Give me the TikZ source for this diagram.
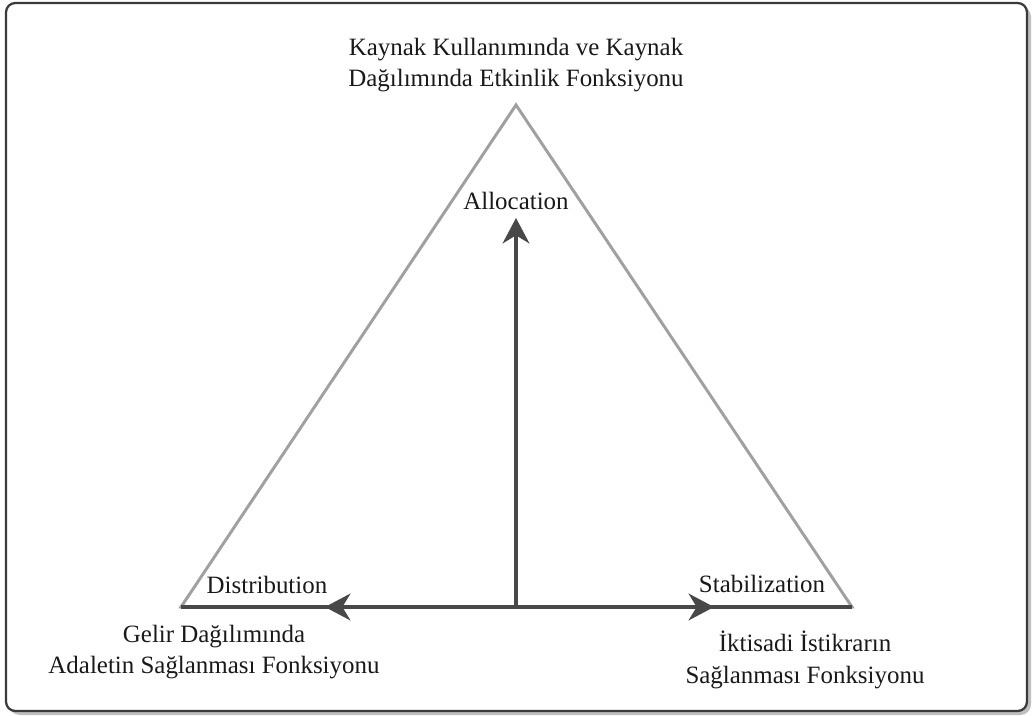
\documentclass[tikz,border=0pt]{standalone}
\usepackage{fontspec}
\setmainfont{Liberation Serif}
\usetikzlibrary{arrows.meta}
\definecolor{framec}{HTML}{3A3A3A}
\definecolor{trig}{HTML}{A0A0A0}
\definecolor{arrc}{HTML}{484848}
\tikzset{
  lbl/.style={font=\fontsize{18.7}{23.5}\selectfont, align=center, inner sep=0pt, text=black!90},
  trilines/.style={draw=trig, line width=2.2pt, line join=miter},
  bigarrow/.style={draw=arrc, line width=3pt, -{Stealth[length=19pt,width=20pt,inset=6pt]}},
}
\begin{document}
\begin{tikzpicture}[x=0.75pt,y=-0.75pt]
\useasboundingbox[fill=white] (0,0) rectangle (1035,716);
% frame with shadow
\fill[black!25, rounded corners=8pt] (9,6) rectangle (1031,715);
\draw[framec, line width=1.7pt, fill=white, rounded corners=7pt] (6,3) rectangle (1027,711);
% triangle
\coordinate (A) at (516,105);
\coordinate (L) at (181,607);
\coordinate (R) at (852,607);
\coordinate (M) at (516,607);
\draw[trilines] (L) -- (A) -- (R) -- cycle;
% arrows
\coordinate (tipU) at (516,218);
\coordinate (tipL) at (325,607);
\coordinate (tipR) at (714,607);
\draw[draw=arrc, line width=3pt] (L) -- (R);
\draw[bigarrow] (M) -- (tipU);
\draw[bigarrow] (M) -- (tipL);
\draw[bigarrow] (M) -- (tipR);
% labels
\node[lbl] (alloc) at (516,201) {Allocation};
\node[lbl] (distr) at (267,585) {Distribution};
\node[lbl] (stab) at (762,584) {Stabilization};
\node[lbl] (top) at (516,65) {Kaynak Kullanımında ve Kaynak\\Dağılımında Etkinlik Fonksiyonu};
\node[lbl] (bl) at (214,652) {Gelir Dağılımında\\Adaletin Sağlanması Fonksiyonu};
\node[lbl] (br) at (805,660) {İktisadi İstikrarın\\Sağlanması Fonksiyonu};
\end{tikzpicture}
\end{document}
